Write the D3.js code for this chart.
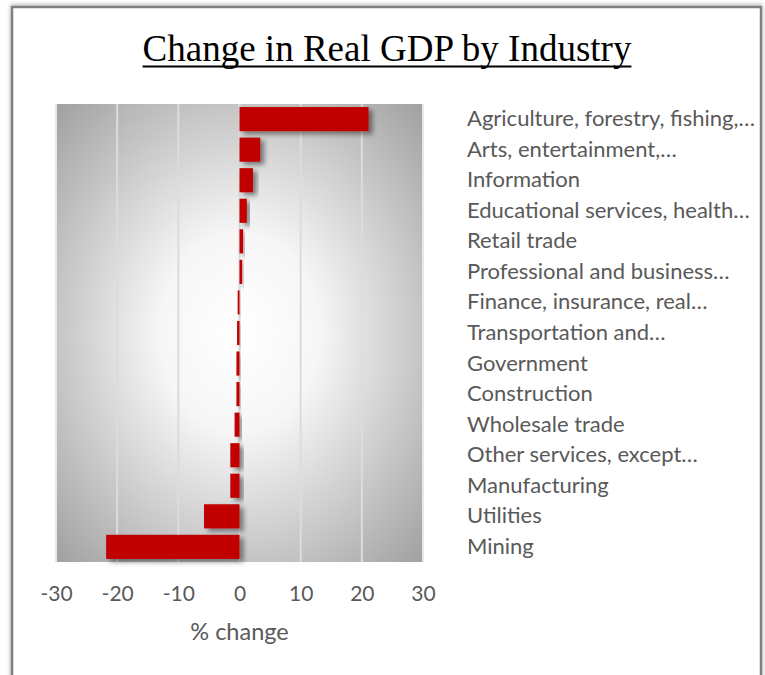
<!DOCTYPE html>
<html>
<head>
<meta charset="utf-8">
<script src="https://cdn.jsdelivr.net/npm/d3@7"></script>
<style>
    body { margin: 0; background: #ffffff; }
    svg { display: block; }
</style>
</head>
<body>
<svg width="765" height="675"></svg>
<script>
var industries = [
    "Agriculture, forestry, fishing,…",
    "Arts, entertainment,…",
    "Information",
    "Educational services, health…",
    "Retail trade",
    "Professional and business…",
    "Finance, insurance, real…",
    "Transportation and…",
    "Government",
    "Construction",
    "Wholesale trade",
    "Other services, except…",
    "Manufacturing",
    "Utilities",
    "Mining"
]
var changes = [21.1, 3.4, 2.2, 1.2, 0.6, 0.45, -0.3, -0.4, -0.5, -0.5, -0.8, -1.5, -1.5, -5.8, -21.8]
var xTicks = [-30, -20, -10, 0, 10, 20, 30]

var svg = d3.select("svg")
var defs = svg.append("defs")

var bg = defs.append("radialGradient")
    .attr("id", "plotbg")
    .attr("cx", "50%").attr("cy", "50%").attr("r", "72%")
bg.append("stop").attr("offset", "0%").attr("stop-color", "#ffffff")
bg.append("stop").attr("offset", "30%").attr("stop-color", "#f6f6f6")
bg.append("stop").attr("offset", "100%").attr("stop-color", "#9e9e9e")

var shadow = defs.append("filter")
    .attr("id", "barshadow")
    .attr("x", "-20%").attr("y", "-30%").attr("width", "160%").attr("height", "180%")
shadow.append("feDropShadow")
    .attr("dx", 4).attr("dy", 3).attr("stdDeviation", 2.5)
    .attr("flood-color", "#000").attr("flood-opacity", 0.45)

var frameShadow = defs.append("filter")
    .attr("id", "frameshadow")
    .attr("x", "-5%").attr("y", "-5%").attr("width", "110%").attr("height", "110%")
frameShadow.append("feDropShadow")
    .attr("dx", 0).attr("dy", -1).attr("stdDeviation", 2)
    .attr("flood-color", "#000").attr("flood-opacity", 0.35)

// outer frame
svg.append("rect")
    .attr("x", 12).attr("y", 7)
    .attr("width", 749).attr("height", 720)
    .attr("fill", "#ffffff")
    .attr("stroke", "#7f7f7f")
    .attr("stroke-width", 2.5)
    .attr("filter", "url(#frameshadow)")

// title, underline drawn by hand so it sits a bit lower
var title = svg.append("text")
    .attr("x", 387).attr("y", 61)
    .attr("text-anchor", "middle")
    .style("font-family", "'Liberation Serif', 'Times New Roman', serif")
    .style("font-size", "37px")
    .attr("fill", "#000")
    .text("Change in Real GDP by Industry")
var tw = title.node().getComputedTextLength()
svg.append("line")
    .attr("x1", 387 - tw / 2).attr("x2", 387 + tw / 2)
    .attr("y1", 66.5).attr("y2", 66.5)
    .attr("stroke", "#000")
    .attr("stroke-width", 2)

var plot = { left: 56, right: 423, top: 104, bottom: 562 }

var x = d3.scaleLinear()
    .domain([-30, 30])
    .range([plot.left, plot.right])

var y = d3.scaleBand()
    .domain(industries)
    .range([plot.top, plot.bottom])
    .paddingInner(0.21)
    .paddingOuter(0.1)

svg.append("rect")
    .attr("x", plot.left).attr("y", plot.top)
    .attr("width", plot.right - plot.left)
    .attr("height", plot.bottom - plot.top)
    .attr("fill", "url(#plotbg)")

// grid lines
svg.append("g")
    .selectAll("line")
    .data(xTicks)
    .enter().append("line")
    .attr("x1", function (d) { return x(d); })
    .attr("x2", function (d) { return x(d); })
    .attr("y1", plot.top)
    .attr("y2", plot.bottom)
    .attr("stroke", function (d) { return Math.abs(d) == 30 ? "#e8e8e8" : "#dcdcdc"; })
    .attr("stroke-width", 2)

// bars
svg.append("g")
    .selectAll("rect")
    .data(changes)
    .enter().append("rect")
    .attr("x", function (d) { return x(Math.min(0, d)); })
    .attr("y", function (d, i) { return y(industries[i]); })
    .attr("width", function (d) { return Math.abs(x(d) - x(0)); })
    .attr("height", y.bandwidth())
    .attr("fill", "#c00000")
    .attr("filter", "url(#barshadow)")

// category labels on the right
svg.append("g")
    .selectAll("text")
    .data(industries)
    .enter().append("text")
    .attr("x", 467)
    .attr("y", function (d) { return y(d) + y.bandwidth() / 2; })
    .attr("dy", "0.32em")
    .style("font-family", "Lato, 'Open Sans', sans-serif")
    .style("font-size", "22px")
    .attr("fill", "#595959")
    .text(function (d) { return d; })

// x axis
var xAxis = d3.axisBottom(x)
    .tickValues(xTicks)
    .tickFormat(function (d) { return String(d); })
    .tickSize(0)
    .tickPadding(0)

var axisG = svg.append("g")
    .attr("transform", "translate(0," + 601 + ")")
    .call(xAxis)
axisG.select(".domain").remove()
axisG.selectAll("text")
    .attr("dy", 0)
    .style("font-family", "Lato, 'Open Sans', sans-serif")
    .style("font-size", "21px")
    .attr("fill", "#595959")

svg.append("text")
    .attr("x", x(0))
    .attr("y", 640)
    .attr("text-anchor", "middle")
    .style("font-family", "Lato, 'Open Sans', sans-serif")
    .style("font-size", "23.5px")
    .attr("fill", "#595959")
    .text("% change")
</script>
</body>
</html>
